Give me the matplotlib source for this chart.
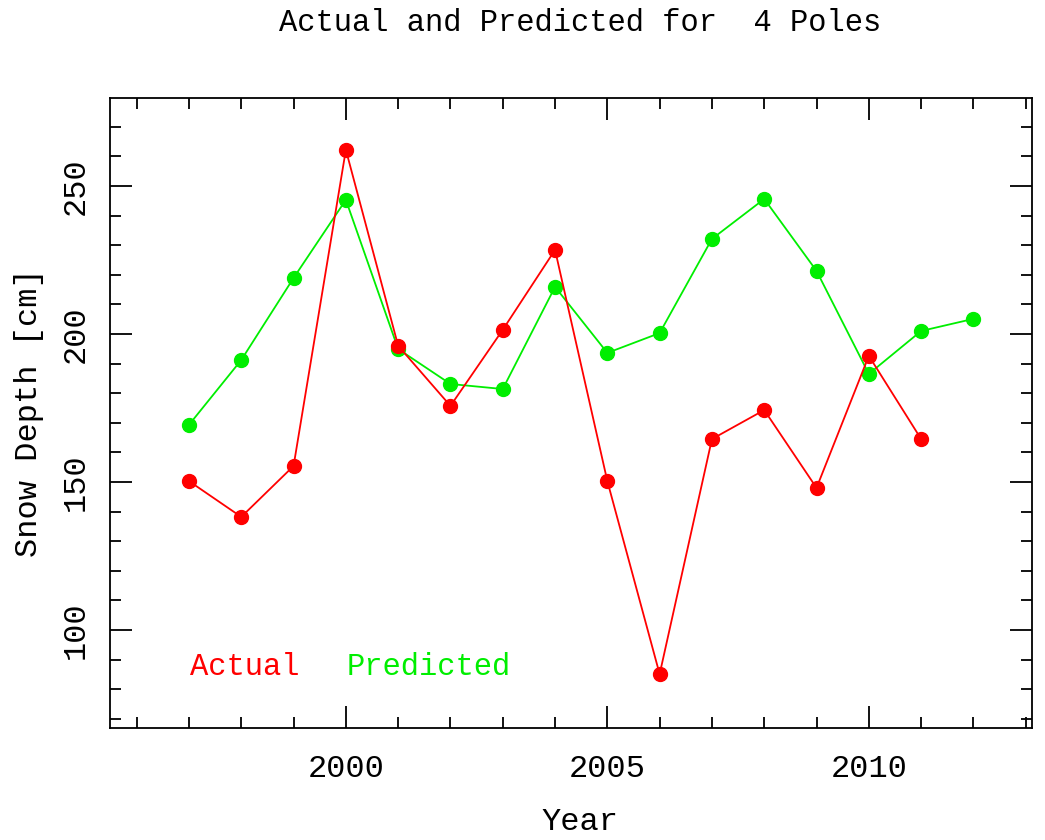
import matplotlib
matplotlib.use("Agg")
import matplotlib.pyplot as plt
from matplotlib.ticker import MultipleLocator

years_actual = [1997, 1998, 1999, 2000, 2001, 2002, 2003, 2004, 2005, 2006, 2007, 2008, 2009, 2010, 2011]
actual = [150.3, 138.2, 155.4, 262.2, 196.0, 175.7, 201.4, 228.4, 150.3, 85.1, 164.5, 174.3, 148.0, 192.6, 164.5]

years_pred = [1997, 1998, 1999, 2000, 2001, 2002, 2003, 2004, 2005, 2006, 2007, 2008, 2009, 2010, 2011, 2012]
predicted = [169.3, 191.2, 218.9, 245.3, 194.9, 183.1, 181.4, 215.9, 193.6, 200.3, 232.1, 245.6, 221.3, 186.5, 201.0, 205.1]

plt.rcParams['font.family'] = ['Liberation Mono', 'DejaVu Sans Mono']

fig = plt.figure(figsize=(10.45, 8.4), dpi=100)
ax = fig.add_axes([110/1045, 112/840, 922/1045, 630/840])

ax.plot(years_actual, actual, '-o', color='#ff0000', lw=1.3, ms=10, zorder=3)
ax.plot(years_pred, predicted, '-o', color='#00ee00', lw=1.3, ms=10, zorder=2)

ax.set_xlim(1995.49, 2013.12)
ax.set_ylim(66.9, 279.7)

ax.xaxis.set_major_locator(MultipleLocator(5))
ax.xaxis.set_minor_locator(MultipleLocator(1))
ax.yaxis.set_major_locator(MultipleLocator(50))
ax.yaxis.set_minor_locator(MultipleLocator(10))
ax.tick_params(which='both', direction='in', top=True, right=True, width=1.3, labelsize=23)
ax.tick_params(which='major', length=16)
ax.tick_params(axis='x', which='major', pad=19)
ax.tick_params(axis='y', which='major', pad=14)
ax.tick_params(which='minor', length=8)
for lab in ax.get_yticklabels():
    lab.set_rotation(90)
    lab.set_va('center')
for s in ax.spines.values():
    s.set_linewidth(1.3)

ax.set_ylabel('Snow Depth [cm]', fontsize=23, labelpad=12)
fig.text(0.555, 0.022, 'Year', ha='center', va='center', fontsize=23)
fig.text(0.555, 0.99, 'Actual and Predicted for  4 Poles', ha='center', va='top', fontsize=22)

ax.text(0.087, 0.084, 'Actual', color='#ff0000', fontsize=22, transform=ax.transAxes)
ax.text(0.257, 0.084, 'Predicted', color='#00ee00', fontsize=22, transform=ax.transAxes)

fig.savefig('out.png', dpi=100)
